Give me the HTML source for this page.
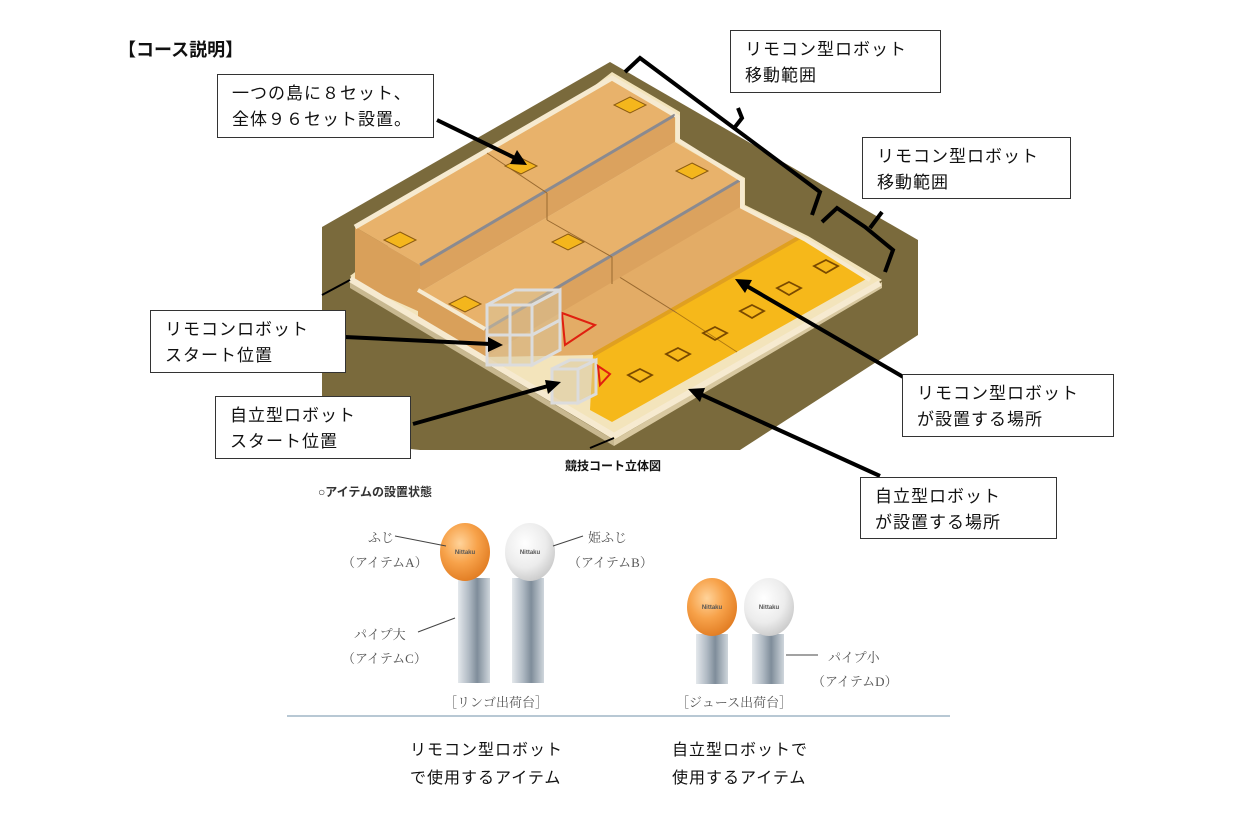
<!DOCTYPE html>
<html><head><meta charset="utf-8"><style>
body{margin:0;background:#fff;width:1241px;height:814px;overflow:hidden;font-family:"Liberation Sans","Noto Sans CJK JP",sans-serif;}
.box{position:absolute;border:1.5px solid #333;background:#fff;font-size:17px;line-height:26px;padding:6px 14px;box-sizing:border-box;color:#111;letter-spacing:1px}
.t{position:absolute;white-space:nowrap;color:#111}
.s{position:absolute;font-family:"Liberation Serif","Noto Serif CJK SC",serif;font-size:13px;color:#555;white-space:nowrap}
</style></head><body>
<svg width="1241" height="814" style="position:absolute;left:0;top:0">
<defs>
<linearGradient id="pipe" x1="0" x2="1"><stop offset="0" stop-color="#e4e8ec"/><stop offset=".35" stop-color="#aeb8c2"/><stop offset=".6" stop-color="#7f8d9a"/><stop offset="1" stop-color="#cfd6dc"/></linearGradient>
<radialGradient id="ob" cx=".4" cy=".35" r=".7"><stop offset="0" stop-color="#ffd39a"/><stop offset=".5" stop-color="#f7a24a"/><stop offset="1" stop-color="#e07a20"/></radialGradient>
<radialGradient id="wb" cx=".4" cy=".35" r=".7"><stop offset="0" stop-color="#ffffff"/><stop offset=".6" stop-color="#ececec"/><stop offset="1" stop-color="#c8c8c8"/></radialGradient>
</defs>
<!-- board -->
<polygon points="610,62 918,240 918,335 740,450 420,450 322,440 322,227" fill="#7a6a3c"/>
<!-- outer wall base (stepped) -->
<polygon points="350,276 612,72 680,112 680,140 745,178 745,205 808,236 882,280 614,440" fill="#f3e4bb"/>
<polygon points="350,282 614,440 614,446 350,288" fill="#c8b890"/>
<polygon points="614,440 882,282 882,288 614,446" fill="#d8c8a0"/>
<!-- floor tier3 -->
<polygon points="420,300 740,180 740,207 805,240 593,355 485,357" fill="#e3ac66"/>
<!-- orange strip -->
<polygon points="593,355 800,237 868,278 612,422 590,410" fill="#f6b81a"/>
<line x1="593" y1="355" x2="800" y2="237" stroke="#e0a020" stroke-width="4"/>
<line x1="677" y1="313" x2="737" y2="352" stroke="#b07a10" stroke-width="1"/>
<line x1="613" y1="273" x2="677" y2="313" stroke="#9a6a30" stroke-width="1"/>
<!-- tier 2 surface + faces -->
<polygon points="420,292 675,142 740,180 485,330" fill="#e8b26b"/>
<polygon points="485,330 740,180 740,207 485,357" fill="#dba25e"/>
<polygon points="418,288 485,327 485,357 418,320" fill="#d9a05a"/>
<line x1="485" y1="330" x2="740" y2="180" stroke="#8a8a90" stroke-width="3"/>
<line x1="547" y1="220" x2="612" y2="257" stroke="#9a6a30" stroke-width="1"/>
<line x1="612" y1="257" x2="612" y2="284" stroke="#9a6a30" stroke-width="1"/>
<!-- tier 1 -->
<polygon points="420,265 675,115 675,142 420,292" fill="#dba25e"/>
<polygon points="355,227 612,78 675,115 420,265" fill="#e8b26b"/>
<polygon points="355,227 420,265 420,312 355,283" fill="#d9a05a"/>
<polyline points="355,227 612,78 675,115" fill="none" stroke="#f6ead0" stroke-width="5"/>
<line x1="420" y1="265" x2="675" y2="115" stroke="#8a8a90" stroke-width="3"/>
<line x1="487" y1="153" x2="547" y2="193" stroke="#9a6a30" stroke-width="1"/>
<line x1="547" y1="193" x2="547" y2="220" stroke="#9a6a30" stroke-width="1"/>
<!-- wall rims -->
<polyline points="675,115 678,117 678,140 742,180 742,207 806,240 870,280" fill="none" stroke="#f6ead0" stroke-width="4"/>
<line x1="350" y1="279" x2="614" y2="436" stroke="#f6ead0" stroke-width="6"/>
<line x1="614" y1="436" x2="880" y2="283" stroke="#f6ead0" stroke-width="6"/>
<line x1="418" y1="290" x2="485" y2="329" stroke="#f6ead0" stroke-width="4"/>
<!-- squares -->
<g fill="#f4b61c" stroke="#8a5a10" stroke-width="1">
<polygon points="630,97 646,105 630,113 614,105"/>
<polygon points="521,158 537,166 521,174 505,166"/>
<polygon points="692,163 708,171 692,179 676,171"/>
<polygon points="568,234 584,242 568,250 552,242"/>
<polygon points="400,232 416,240 400,248 384,240"/>
<polygon points="465,296 481,304 465,312 449,304"/>
</g>
<g fill="none" stroke="#7a4a00" stroke-width="1.8">
<polygon points="826,260 838,266 826,273 814,266"/>
<polygon points="789,282 801,288 789,295 777,288"/>
<polygon points="752,305 764,311 752,318 740,311"/>
<polygon points="715,327 727,333 715,340 703,333"/>
<polygon points="678,348 690,354 678,361 666,354"/>
<polygon points="640,369 652,375 640,382 628,375"/>
</g>
<!-- robot boxes -->
<polygon points="562,313 595,325 565,345" fill="none" stroke="#e02010" stroke-width="2"/>
<g fill="#d8c6a0" fill-opacity=".5" stroke="#dcdcdc" stroke-width="3">
<rect x="487" y="305" width="45" height="60"/>
<polygon points="532,305 560,290 560,350 532,365"/>
<polygon points="487,305 515,290 560,290 532,305"/>
<line x1="487" y1="335" x2="532" y2="335"/><line x1="532" y1="335" x2="560" y2="320"/>
<line x1="510" y1="305" x2="510" y2="365"/>
<rect x="552" y="369" width="26" height="34"/>
<polygon points="578,369 596,360 596,394 578,403"/>
<polygon points="552,369 570,360 596,360 578,369"/>
</g>
<polygon points="598,366 610,374 600,385" fill="none" stroke="#e02010" stroke-width="2"/>
<!-- brackets -->
<g fill="none" stroke="#000" stroke-width="4">
<polyline points="625,72 640,58 820,192 812,215"/>
<polyline points="735,127 742,118 738,108"/>
<polyline points="822,222 837,208 865,227 893,250 885,272"/>
<polyline points="870,228 882,212"/>
</g>
<!-- arrows -->
<g stroke="#000" stroke-width="4" fill="#000">
<line x1="437" y1="120" x2="515" y2="158"/><polygon points="527,165 510,164 517,150" stroke="none"/>
<line x1="345" y1="337" x2="490" y2="344"/><polygon points="503,345 488,352 488,337" stroke="none"/>
<line x1="413" y1="424" x2="548" y2="386"/><polygon points="561,382 548,394 545,380" stroke="none"/>
<line x1="905" y1="378" x2="745" y2="285"/><polygon points="735,279 752,280 745,293" stroke="none"/>
<line x1="880" y1="476" x2="700" y2="394"/><polygon points="688,389 705,388 700,402" stroke="none"/>
<line x1="322" y1="295" x2="350" y2="280" stroke-width="2"/>
<line x1="590" y1="448" x2="614" y2="438" stroke-width="2"/>
</g>
<!-- items -->
<rect x="458" y="578" width="32" height="105" fill="url(#pipe)"/>
<rect x="512" y="578" width="32" height="105" fill="url(#pipe)"/>
<rect x="696" y="634" width="32" height="50" fill="url(#pipe)"/>
<rect x="752" y="634" width="32" height="50" fill="url(#pipe)"/>
<ellipse cx="465" cy="552" rx="25" ry="29" fill="url(#ob)"/>
<ellipse cx="530" cy="552" rx="25" ry="29" fill="url(#wb)"/>
<ellipse cx="712" cy="607" rx="25" ry="29" fill="url(#ob)"/>
<ellipse cx="769" cy="607" rx="25" ry="29" fill="url(#wb)"/>
<g font-size="6" font-weight="bold" text-anchor="middle" fill="#555" font-family="Liberation Sans">
<text x="465" y="554">Nittaku</text><text x="530" y="554">Nittaku</text><text x="712" y="609">Nittaku</text><text x="769" y="609">Nittaku</text></g>
<g stroke="#444" stroke-width="1">
<line x1="395" y1="536" x2="446" y2="546"/><line x1="553" y1="546" x2="583" y2="536"/>
<line x1="418" y1="632" x2="455" y2="618"/><line x1="786" y1="655" x2="818" y2="655"/>
</g>
<line x1="287" y1="716" x2="950" y2="716" stroke="#b8c8d4" stroke-width="2"/>
</svg>
<div class="t" style="left:118px;top:36px;font-size:18px;font-weight:bold">【コース説明】</div>
<div class="box" style="left:217px;top:74px;width:217px;height:64px">一つの島に８セット、<br>全体９６セット設置。</div>
<div class="box" style="left:730px;top:30px;width:211px;height:63px">リモコン型ロボット<br>移動範囲</div>
<div class="box" style="left:862px;top:137px;width:209px;height:62px">リモコン型ロボット<br>移動範囲</div>
<div class="box" style="left:150px;top:310px;width:196px;height:63px">リモコンロボット<br>スタート位置</div>
<div class="box" style="left:215px;top:396px;width:196px;height:63px">自立型ロボット<br>スタート位置</div>
<div class="box" style="left:902px;top:374px;width:212px;height:63px">リモコン型ロボット<br>が設置する場所</div>
<div class="box" style="left:860px;top:477px;width:197px;height:62px">自立型ロボット<br>が設置する場所</div>
<div class="t" style="left:565px;top:457px;font-size:12px;font-weight:bold">競技コート立体図</div>
<div class="t" style="left:318px;top:483px;font-size:12px;font-weight:bold;color:#333">○アイテムの設置状態</div>
<div class="s" style="left:368px;top:527px">ふじ</div>
<div class="s" style="left:342px;top:552px">（アイテムA）</div>
<div class="s" style="left:588px;top:527px">姫ふじ</div>
<div class="s" style="left:568px;top:552px">（アイテムB）</div>
<div class="s" style="left:354px;top:624px">パイプ大</div>
<div class="s" style="left:342px;top:648px">（アイテムC）</div>
<div class="s" style="left:828px;top:647px">パイプ小</div>
<div class="s" style="left:812px;top:671px">（アイテムD）</div>
<div class="s" style="left:444px;top:692px">［リンゴ出荷台］</div>
<div class="s" style="left:676px;top:692px">［ジュース出荷台］</div>
<div class="t" style="left:410px;top:737px;font-size:16px;line-height:28px;letter-spacing:1px">リモコン型ロボット<br>で使用するアイテム</div>
<div class="t" style="left:672px;top:737px;font-size:16px;line-height:28px;letter-spacing:1px">自立型ロボットで<br>使用するアイテム</div>
</body></html>
